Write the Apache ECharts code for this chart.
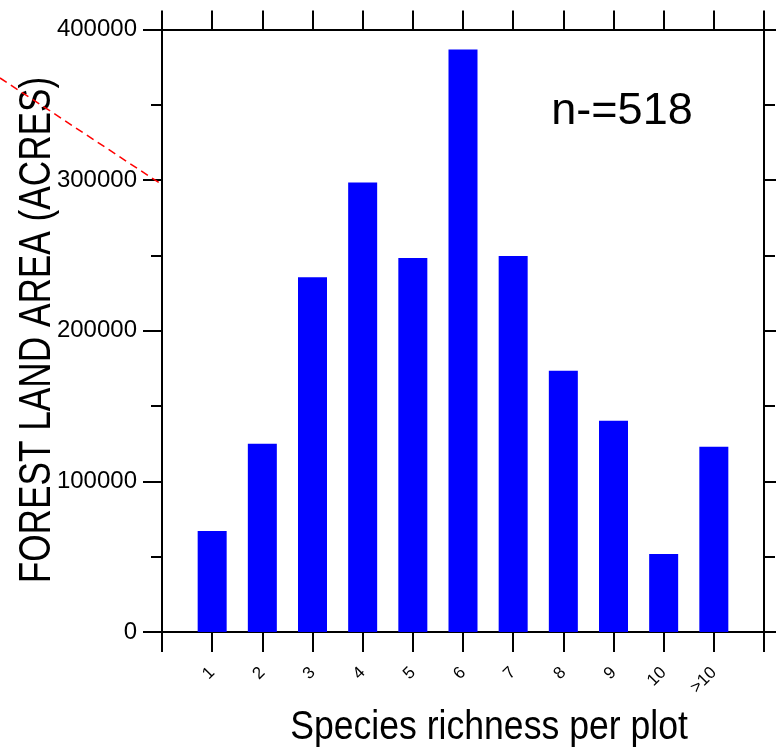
<!DOCTYPE html>
<html>
<head>
<meta charset="utf-8">
<script src="https://cdn.jsdelivr.net/npm/echarts@6/dist/echarts.min.js"></script>
<style>
html,body{margin:0;padding:0;background:#fff;}
#c{width:776px;height:750px;}
</style>
</head>
<body>
<div id="c"></div>
<script>
// Data
const categories = ['1', '2', '3', '4', '5', '6', '7', '8', '9', '10', '>10'];
const forestArea = [67000, 125000, 235500, 298500, 248300, 386800, 249600, 173500, 140300, 51800, 123000];
const yTicks = [0, 100000, 200000, 300000, 400000];
const xTitle = 'Species richness per plot';
const yTitle = 'FOREST LAND AREA (ACRES)';
const note = 'n-=518';

const FONT = '"Liberation Sans", Arial, Helvetica, sans-serif';
const chart = echarts.init(document.getElementById('c'), null, {renderer: 'canvas'});

const barData = categories.map((c, i) => [i + 1, forestArea[i]]);
const axisLine = {show: true, onZero: false, lineStyle: {color: '#000', width: 2}};

const xCommon = {
  type: 'value', min: 0, max: categories.length + 1, interval: 1,
  splitLine: {show: false},
  axisLine: axisLine
};
const yCommon = {
  type: 'value', min: yTicks[0], max: yTicks[yTicks.length - 1], interval: yTicks[1] - yTicks[0],
  splitLine: {show: false},
  axisLine: axisLine,
  minorTick: {show: true, splitNumber: 2, length: 11, lineStyle: {color: '#000', width: 2}},
  minorSplitLine: {show: false}
};

chart.setOption({
  backgroundColor: '#fff',
  animation: false,
  grid: {left: 162, right: 12, top: 29.5, bottom: 118, containLabel: false},
  xAxis: [
    Object.assign({}, xCommon, {
      position: 'bottom',
      axisTick: {show: true, length: 20, lineStyle: {color: '#000', width: 2}},
      axisLabel: {
        show: true, rotate: 45, margin: 38, fontSize: 17, color: '#000', fontFamily: FONT,
        formatter: v => (v >= 1 && v <= categories.length) ? categories[v - 1] : ''
      }
    }),
    Object.assign({}, xCommon, {
      position: 'top',
      axisTick: {show: true, length: 19, lineStyle: {color: '#000', width: 2}},
      axisLabel: {show: false}
    })
  ],
  yAxis: [
    Object.assign({}, yCommon, {
      position: 'left',
      axisTick: {show: true, length: 19, lineStyle: {color: '#000', width: 2}},
      axisLabel: {show: true, margin: 25, fontSize: 24, color: '#000', fontFamily: FONT, formatter: v => String(v)}
    }),
    Object.assign({}, yCommon, {
      position: 'right',
      axisTick: {show: true, length: 19, lineStyle: {color: '#000', width: 2}},
      axisLabel: {show: false}
    })
  ],
  series: [{
    type: 'bar',
    xAxisIndex: 0, yAxisIndex: 0,
    barWidth: 29,
    itemStyle: {color: '#0000ff'},
    data: barData
  }],
  graphic: [
    {
      type: 'line', z: 1, silent: true,
      shape: {x1: 0, y1: 78, x2: 161, y2: 184},
      style: {stroke: '#ff0000', lineWidth: 1.5, lineDash: [8, 5]}
    },
    {
      type: 'text', x: 38, y: 330, rotation: Math.PI / 2, scaleX: 0.8,
      style: {text: yTitle, font: '44px ' + FONT, fill: '#000', align: 'center', verticalAlign: 'middle'}
    },
    {
      type: 'text', x: 489, y: 728, scaleX: 0.89,
      style: {text: xTitle, font: '40px ' + FONT, fill: '#000', align: 'center', verticalAlign: 'middle'}
    },
    {
      type: 'text', x: 622, y: 112,
      style: {text: note, font: '45px ' + FONT, fill: '#000', align: 'center', verticalAlign: 'middle'}
    }
  ]
});
</script>
</body>
</html>
